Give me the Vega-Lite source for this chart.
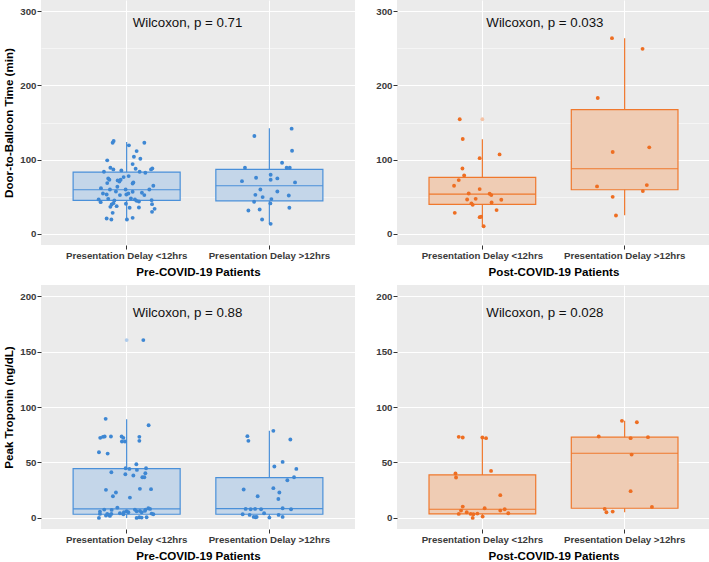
{
"$schema": "https://vega.github.io/schema/vega-lite/v6.json",
"padding": {"left": 3, "top": 0, "right": 0, "bottom": 0},
"background": "white",
"datasets": {
"boxes": [
{"p":"Pre","m":"D","g":"<12hrs","lo":18.9,"q1":45.0,"med":59.4,"q3":83.2,"hi":123.7},
{"p":"Pre","m":"D","g":">12hrs","lo":13.5,"q1":44.5,"med":64.8,"q3":86.8,"hi":142.1},
{"p":"Post","m":"D","g":"<12hrs","lo":10.3,"q1":39.6,"med":53.5,"q3":76.0,"hi":127.3},
{"p":"Post","m":"D","g":">12hrs","lo":25.2,"q1":59.4,"med":87.7,"q3":167.3,"hi":263.6},
{"p":"Pre","m":"T","g":"<12hrs","lo":0,"q1":3.3,"med":8.1,"q3":44.5,"hi":89.0},
{"p":"Pre","m":"T","g":">12hrs","lo":0,"q1":3.3,"med":8.4,"q3":36.4,"hi":78.5},
{"p":"Post","m":"T","g":"<12hrs","lo":0,"q1":3.6,"med":7.8,"q3":38.8,"hi":72.5},
{"p":"Post","m":"T","g":">12hrs","lo":5.1,"q1":8.7,"med":58.3,"q3":72.8,"hi":87.5}
],
"outl": [
{"p":"Post","m":"D","g":"<12hrs","v":154.3},
{"p":"Pre","m":"T","g":"<12hrs","v":160.3}
],
"lab": [
{"p":"Pre","m":"D","t":"Wilcoxon, p = 0.71","y":284},
{"p":"Post","m":"D","t":"Wilcoxon, p = 0.033","y":284},
{"p":"Pre","m":"T","t":"Wilcoxon, p = 0.88","y":185},
{"p":"Post","m":"T","t":"Wilcoxon, p = 0.028","y":185}
],
"pts": [
{"p":"Pre","m":"D","g":"<12hrs","v":122.8,"j":-0.098},
{"p":"Pre","m":"D","g":"<12hrs","v":125.0,"j":-0.091},
{"p":"Pre","m":"D","g":"<12hrs","v":119.2,"j":0.016},
{"p":"Pre","m":"D","g":"<12hrs","v":122.8,"j":0.124},
{"p":"Pre","m":"D","g":"<12hrs","v":111.5,"j":0.070},
{"p":"Pre","m":"D","g":"<12hrs","v":103.9,"j":0.051},
{"p":"Pre","m":"D","g":"<12hrs","v":101.2,"j":0.096},
{"p":"Pre","m":"D","g":"<12hrs","v":99.0,"j":-0.136},
{"p":"Pre","m":"D","g":"<12hrs","v":94.0,"j":0.042},
{"p":"Pre","m":"D","g":"<12hrs","v":89.1,"j":-0.114},
{"p":"Pre","m":"D","g":"<12hrs","v":86.8,"j":-0.093},
{"p":"Pre","m":"D","g":"<12hrs","v":87.7,"j":0.063},
{"p":"Pre","m":"D","g":"<12hrs","v":86.8,"j":0.171},
{"p":"Pre","m":"D","g":"<12hrs","v":88.2,"j":0.180},
{"p":"Pre","m":"D","g":"<12hrs","v":83.7,"j":-0.159},
{"p":"Pre","m":"D","g":"<12hrs","v":85.5,"j":-0.037},
{"p":"Pre","m":"D","g":"<12hrs","v":82.3,"j":0.131},
{"p":"Pre","m":"D","g":"<12hrs","v":83.7,"j":0.091},
{"p":"Pre","m":"D","g":"<12hrs","v":74.7,"j":-0.129},
{"p":"Pre","m":"D","g":"<12hrs","v":72.9,"j":-0.121},
{"p":"Pre","m":"D","g":"<12hrs","v":76.5,"j":-0.021},
{"p":"Pre","m":"D","g":"<12hrs","v":72.9,"j":-0.042},
{"p":"Pre","m":"D","g":"<12hrs","v":72.0,"j":-0.063},
{"p":"Pre","m":"D","g":"<12hrs","v":70.6,"j":-0.051},
{"p":"Pre","m":"D","g":"<12hrs","v":77.8,"j":0.014},
{"p":"Pre","m":"D","g":"<12hrs","v":67.9,"j":0.042},
{"p":"Pre","m":"D","g":"<12hrs","v":69.3,"j":0.047},
{"p":"Pre","m":"D","g":"<12hrs","v":68.4,"j":-0.136},
{"p":"Pre","m":"D","g":"<12hrs","v":63.4,"j":-0.065},
{"p":"Pre","m":"D","g":"<12hrs","v":64.8,"j":0.187},
{"p":"Pre","m":"D","g":"<12hrs","v":61.6,"j":-0.180},
{"p":"Pre","m":"D","g":"<12hrs","v":59.8,"j":-0.117},
{"p":"Pre","m":"D","g":"<12hrs","v":57.1,"j":-0.075},
{"p":"Pre","m":"D","g":"<12hrs","v":59.8,"j":-0.007},
{"p":"Pre","m":"D","g":"<12hrs","v":59.8,"j":0.159},
{"p":"Pre","m":"D","g":"<12hrs","v":54.4,"j":-0.166},
{"p":"Pre","m":"D","g":"<12hrs","v":53.1,"j":-0.140},
{"p":"Pre","m":"D","g":"<12hrs","v":53.1,"j":-0.002},
{"p":"Pre","m":"D","g":"<12hrs","v":54.4,"j":0.012},
{"p":"Pre","m":"D","g":"<12hrs","v":56.7,"j":0.042},
{"p":"Pre","m":"D","g":"<12hrs","v":55.3,"j":0.107},
{"p":"Pre","m":"D","g":"<12hrs","v":52.2,"j":0.124},
{"p":"Pre","m":"D","g":"<12hrs","v":52.2,"j":-0.047},
{"p":"Pre","m":"D","g":"<12hrs","v":46.3,"j":-0.196},
{"p":"Pre","m":"D","g":"<12hrs","v":42.7,"j":-0.182},
{"p":"Pre","m":"D","g":"<12hrs","v":47.2,"j":-0.129},
{"p":"Pre","m":"D","g":"<12hrs","v":45.0,"j":-0.086},
{"p":"Pre","m":"D","g":"<12hrs","v":47.7,"j":0.030},
{"p":"Pre","m":"D","g":"<12hrs","v":46.3,"j":0.058},
{"p":"Pre","m":"D","g":"<12hrs","v":44.5,"j":0.070},
{"p":"Pre","m":"D","g":"<12hrs","v":45.4,"j":0.175},
{"p":"Pre","m":"D","g":"<12hrs","v":39.6,"j":-0.105},
{"p":"Pre","m":"D","g":"<12hrs","v":41.4,"j":-0.093},
{"p":"Pre","m":"D","g":"<12hrs","v":40.5,"j":-0.005},
{"p":"Pre","m":"D","g":"<12hrs","v":43.6,"j":0.086},
{"p":"Pre","m":"D","g":"<12hrs","v":40.0,"j":0.178},
{"p":"Pre","m":"D","g":"<12hrs","v":36.4,"j":-0.114},
{"p":"Pre","m":"D","g":"<12hrs","v":37.3,"j":-0.070},
{"p":"Pre","m":"D","g":"<12hrs","v":35.1,"j":0.021},
{"p":"Pre","m":"D","g":"<12hrs","v":35.5,"j":0.086},
{"p":"Pre","m":"D","g":"<12hrs","v":33.7,"j":0.196},
{"p":"Pre","m":"D","g":"<12hrs","v":29.7,"j":0.178},
{"p":"Pre","m":"D","g":"<12hrs","v":28.3,"j":-0.098},
{"p":"Pre","m":"D","g":"<12hrs","v":20.7,"j":-0.140},
{"p":"Pre","m":"D","g":"<12hrs","v":19.3,"j":-0.107},
{"p":"Pre","m":"D","g":"<12hrs","v":19.3,"j":0.002},
{"p":"Pre","m":"D","g":"<12hrs","v":21.6,"j":0.042},
{"p":"Pre","m":"D","g":">12hrs","v":141.7,"j":0.156},
{"p":"Pre","m":"D","g":">12hrs","v":131.8,"j":-0.105},
{"p":"Pre","m":"D","g":">12hrs","v":112.0,"j":0.159},
{"p":"Pre","m":"D","g":">12hrs","v":95.8,"j":0.089},
{"p":"Pre","m":"D","g":">12hrs","v":89.0,"j":-0.171},
{"p":"Pre","m":"D","g":">12hrs","v":89.0,"j":0.121},
{"p":"Pre","m":"D","g":">12hrs","v":89.0,"j":0.143},
{"p":"Pre","m":"D","g":">12hrs","v":75.6,"j":-0.093},
{"p":"Pre","m":"D","g":">12hrs","v":79.6,"j":0.009},
{"p":"Pre","m":"D","g":">12hrs","v":72.9,"j":0.009},
{"p":"Pre","m":"D","g":">12hrs","v":74.7,"j":0.056},
{"p":"Pre","m":"D","g":">12hrs","v":71.0,"j":-0.192},
{"p":"Pre","m":"D","g":">12hrs","v":69.3,"j":0.180},
{"p":"Pre","m":"D","g":">12hrs","v":59.8,"j":-0.063},
{"p":"Pre","m":"D","g":">12hrs","v":57.1,"j":0.056},
{"p":"Pre","m":"D","g":">12hrs","v":52.6,"j":-0.098},
{"p":"Pre","m":"D","g":">12hrs","v":51.7,"j":0.136},
{"p":"Pre","m":"D","g":">12hrs","v":49.5,"j":-0.047},
{"p":"Pre","m":"D","g":">12hrs","v":46.8,"j":0.014},
{"p":"Pre","m":"D","g":">12hrs","v":43.2,"j":-0.107},
{"p":"Pre","m":"D","g":">12hrs","v":41.0,"j":0.007},
{"p":"Pre","m":"D","g":">12hrs","v":35.1,"j":0.140},
{"p":"Pre","m":"D","g":">12hrs","v":31.5,"j":-0.147},
{"p":"Pre","m":"D","g":">12hrs","v":32.8,"j":-0.068},
{"p":"Pre","m":"D","g":">12hrs","v":19.3,"j":-0.051},
{"p":"Pre","m":"D","g":">12hrs","v":13.5,"j":0.009},
{"p":"Post","m":"D","g":"<12hrs","v":154.3,"j":-0.159},
{"p":"Post","m":"D","g":"<12hrs","v":127.7,"j":-0.138},
{"p":"Post","m":"D","g":"<12hrs","v":102.0,"j":-0.019},
{"p":"Post","m":"D","g":"<12hrs","v":107.0,"j":0.121},
{"p":"Post","m":"D","g":"<12hrs","v":88.0,"j":-0.140},
{"p":"Post","m":"D","g":"<12hrs","v":78.7,"j":-0.128},
{"p":"Post","m":"D","g":"<12hrs","v":72.4,"j":-0.166},
{"p":"Post","m":"D","g":"<12hrs","v":64.8,"j":-0.199},
{"p":"Post","m":"D","g":"<12hrs","v":60.3,"j":-0.019},
{"p":"Post","m":"D","g":"<12hrs","v":54.4,"j":-0.096},
{"p":"Post","m":"D","g":"<12hrs","v":54.0,"j":0.051},
{"p":"Post","m":"D","g":"<12hrs","v":52.2,"j":0.063},
{"p":"Post","m":"D","g":"<12hrs","v":46.3,"j":-0.107},
{"p":"Post","m":"D","g":"<12hrs","v":47.2,"j":-0.047},
{"p":"Post","m":"D","g":"<12hrs","v":45.9,"j":0.133},
{"p":"Post","m":"D","g":"<12hrs","v":42.3,"j":0.065},
{"p":"Post","m":"D","g":"<12hrs","v":41.0,"j":-0.077},
{"p":"Post","m":"D","g":"<12hrs","v":39.1,"j":-0.068},
{"p":"Post","m":"D","g":"<12hrs","v":32.0,"j":0.100},
{"p":"Post","m":"D","g":"<12hrs","v":28.3,"j":-0.194},
{"p":"Post","m":"D","g":"<12hrs","v":22.5,"j":-0.019},
{"p":"Post","m":"D","g":"<12hrs","v":23.0,"j":-0.009},
{"p":"Post","m":"D","g":"<12hrs","v":10.3,"j":0.009},
{"p":"Post","m":"D","g":">12hrs","v":263.6,"j":-0.089},
{"p":"Post","m":"D","g":">12hrs","v":249.2,"j":0.126},
{"p":"Post","m":"D","g":">12hrs","v":183.0,"j":-0.189},
{"p":"Post","m":"D","g":">12hrs","v":110.2,"j":-0.084},
{"p":"Post","m":"D","g":">12hrs","v":116.5,"j":0.173},
{"p":"Post","m":"D","g":">12hrs","v":63.9,"j":-0.194},
{"p":"Post","m":"D","g":">12hrs","v":65.7,"j":0.156},
{"p":"Post","m":"D","g":">12hrs","v":57.6,"j":0.128},
{"p":"Post","m":"D","g":">12hrs","v":49.9,"j":-0.084},
{"p":"Post","m":"D","g":">12hrs","v":24.7,"j":-0.061},
{"p":"Pre","m":"T","g":"<12hrs","v":160.3,"j":0.117},
{"p":"Pre","m":"T","g":"<12hrs","v":89.3,"j":-0.147},
{"p":"Pre","m":"T","g":"<12hrs","v":83.6,"j":0.154},
{"p":"Pre","m":"T","g":"<12hrs","v":72.2,"j":-0.185},
{"p":"Pre","m":"T","g":"<12hrs","v":73.1,"j":-0.166},
{"p":"Pre","m":"T","g":"<12hrs","v":73.4,"j":-0.154},
{"p":"Pre","m":"T","g":"<12hrs","v":73.4,"j":-0.110},
{"p":"Pre","m":"T","g":"<12hrs","v":73.4,"j":-0.035},
{"p":"Pre","m":"T","g":"<12hrs","v":72.2,"j":-0.023},
{"p":"Pre","m":"T","g":"<12hrs","v":73.1,"j":0.089},
{"p":"Pre","m":"T","g":"<12hrs","v":68.9,"j":-0.033},
{"p":"Pre","m":"T","g":"<12hrs","v":68.9,"j":-0.012},
{"p":"Pre","m":"T","g":"<12hrs","v":69.5,"j":0.089},
{"p":"Pre","m":"T","g":"<12hrs","v":59.2,"j":-0.194},
{"p":"Pre","m":"T","g":"<12hrs","v":58.0,"j":-0.133},
{"p":"Pre","m":"T","g":"<12hrs","v":48.4,"j":0.068},
{"p":"Pre","m":"T","g":"<12hrs","v":44.8,"j":-0.007},
{"p":"Pre","m":"T","g":"<12hrs","v":44.2,"j":0.019},
{"p":"Pre","m":"T","g":"<12hrs","v":43.3,"j":0.072},
{"p":"Pre","m":"T","g":"<12hrs","v":44.8,"j":0.136},
{"p":"Pre","m":"T","g":"<12hrs","v":41.2,"j":-0.107},
{"p":"Pre","m":"T","g":"<12hrs","v":39.4,"j":-0.009},
{"p":"Pre","m":"T","g":"<12hrs","v":40.3,"j":0.131},
{"p":"Pre","m":"T","g":"<12hrs","v":38.2,"j":0.047},
{"p":"Pre","m":"T","g":"<12hrs","v":36.7,"j":0.110},
{"p":"Pre","m":"T","g":"<12hrs","v":36.7,"j":0.124},
{"p":"Pre","m":"T","g":"<12hrs","v":25.3,"j":-0.145},
{"p":"Pre","m":"T","g":"<12hrs","v":26.2,"j":0.093},
{"p":"Pre","m":"T","g":"<12hrs","v":25.9,"j":0.171},
{"p":"Pre","m":"T","g":"<12hrs","v":22.9,"j":-0.075},
{"p":"Pre","m":"T","g":"<12hrs","v":19.5,"j":-0.096},
{"p":"Pre","m":"T","g":"<12hrs","v":18.3,"j":0.023},
{"p":"Pre","m":"T","g":"<12hrs","v":9.3,"j":-0.065},
{"p":"Pre","m":"T","g":"<12hrs","v":8.7,"j":0.152},
{"p":"Pre","m":"T","g":"<12hrs","v":5.7,"j":-0.187},
{"p":"Pre","m":"T","g":"<12hrs","v":7.5,"j":-0.157},
{"p":"Pre","m":"T","g":"<12hrs","v":7.2,"j":-0.105},
{"p":"Pre","m":"T","g":"<12hrs","v":0.0,"j":-0.194},
{"p":"Pre","m":"T","g":"<12hrs","v":3.6,"j":-0.136},
{"p":"Pre","m":"T","g":"<12hrs","v":2.7,"j":-0.124},
{"p":"Pre","m":"T","g":"<12hrs","v":1.8,"j":-0.117},
{"p":"Pre","m":"T","g":"<12hrs","v":3.6,"j":-0.107},
{"p":"Pre","m":"T","g":"<12hrs","v":2.1,"j":-0.145},
{"p":"Pre","m":"T","g":"<12hrs","v":6.0,"j":0.000},
{"p":"Pre","m":"T","g":"<12hrs","v":5.1,"j":0.012},
{"p":"Pre","m":"T","g":"<12hrs","v":3.3,"j":-0.023},
{"p":"Pre","m":"T","g":"<12hrs","v":5.1,"j":-0.019},
{"p":"Pre","m":"T","g":"<12hrs","v":7.5,"j":0.058},
{"p":"Pre","m":"T","g":"<12hrs","v":6.0,"j":0.070},
{"p":"Pre","m":"T","g":"<12hrs","v":6.3,"j":0.093},
{"p":"Pre","m":"T","g":"<12hrs","v":5.1,"j":0.105},
{"p":"Pre","m":"T","g":"<12hrs","v":7.5,"j":0.133},
{"p":"Pre","m":"T","g":"<12hrs","v":6.3,"j":0.128},
{"p":"Pre","m":"T","g":"<12hrs","v":8.1,"j":0.164},
{"p":"Pre","m":"T","g":"<12hrs","v":3.9,"j":0.175},
{"p":"Pre","m":"T","g":"<12hrs","v":3.3,"j":0.187},
{"p":"Pre","m":"T","g":"<12hrs","v":0.0,"j":0.070},
{"p":"Pre","m":"T","g":"<12hrs","v":0.6,"j":0.089},
{"p":"Pre","m":"T","g":"<12hrs","v":0.3,"j":0.105},
{"p":"Pre","m":"T","g":"<12hrs","v":0.6,"j":0.140},
{"p":"Pre","m":"T","g":"<12hrs","v":4.2,"j":-0.047},
{"p":"Pre","m":"T","g":"<12hrs","v":3.6,"j":-0.187},
{"p":"Pre","m":"T","g":">12hrs","v":78.5,"j":0.028},
{"p":"Pre","m":"T","g":">12hrs","v":73.7,"j":-0.154},
{"p":"Pre","m":"T","g":">12hrs","v":69.5,"j":-0.147},
{"p":"Pre","m":"T","g":">12hrs","v":70.7,"j":0.147},
{"p":"Pre","m":"T","g":">12hrs","v":50.5,"j":0.093},
{"p":"Pre","m":"T","g":">12hrs","v":46.3,"j":0.035},
{"p":"Pre","m":"T","g":">12hrs","v":44.2,"j":0.189},
{"p":"Pre","m":"T","g":">12hrs","v":36.7,"j":0.173},
{"p":"Pre","m":"T","g":">12hrs","v":34.0,"j":0.126},
{"p":"Pre","m":"T","g":">12hrs","v":25.6,"j":-0.180},
{"p":"Pre","m":"T","g":">12hrs","v":26.8,"j":0.028},
{"p":"Pre","m":"T","g":">12hrs","v":22.9,"j":0.070},
{"p":"Pre","m":"T","g":">12hrs","v":19.5,"j":-0.082},
{"p":"Pre","m":"T","g":">12hrs","v":17.1,"j":0.063},
{"p":"Pre","m":"T","g":">12hrs","v":8.7,"j":0.093},
{"p":"Pre","m":"T","g":">12hrs","v":7.8,"j":0.152},
{"p":"Pre","m":"T","g":">12hrs","v":8.1,"j":-0.166},
{"p":"Pre","m":"T","g":">12hrs","v":7.8,"j":-0.131},
{"p":"Pre","m":"T","g":">12hrs","v":8.1,"j":-0.100},
{"p":"Pre","m":"T","g":">12hrs","v":7.8,"j":-0.058},
{"p":"Pre","m":"T","g":">12hrs","v":3.3,"j":-0.187},
{"p":"Pre","m":"T","g":">12hrs","v":2.7,"j":-0.138},
{"p":"Pre","m":"T","g":">12hrs","v":0.9,"j":-0.110},
{"p":"Pre","m":"T","g":">12hrs","v":0.6,"j":-0.096},
{"p":"Pre","m":"T","g":">12hrs","v":0.9,"j":-0.089},
{"p":"Pre","m":"T","g":">12hrs","v":4.2,"j":-0.037},
{"p":"Pre","m":"T","g":">12hrs","v":0.3,"j":0.000},
{"p":"Pre","m":"T","g":">12hrs","v":2.7,"j":0.065},
{"p":"Pre","m":"T","g":">12hrs","v":0.9,"j":0.093},
{"p":"Post","m":"T","g":"<12hrs","v":73.1,"j":-0.166},
{"p":"Post","m":"T","g":"<12hrs","v":72.5,"j":-0.138},
{"p":"Post","m":"T","g":"<12hrs","v":72.5,"j":0.000},
{"p":"Post","m":"T","g":"<12hrs","v":71.9,"j":0.026},
{"p":"Post","m":"T","g":"<12hrs","v":42.4,"j":0.061},
{"p":"Post","m":"T","g":"<12hrs","v":40.0,"j":-0.189},
{"p":"Post","m":"T","g":"<12hrs","v":36.4,"j":-0.185},
{"p":"Post","m":"T","g":"<12hrs","v":20.5,"j":0.126},
{"p":"Post","m":"T","g":"<12hrs","v":10.2,"j":-0.138},
{"p":"Post","m":"T","g":"<12hrs","v":6.6,"j":-0.150},
{"p":"Post","m":"T","g":"<12hrs","v":8.7,"j":0.016},
{"p":"Post","m":"T","g":"<12hrs","v":6.6,"j":0.126},
{"p":"Post","m":"T","g":"<12hrs","v":7.8,"j":0.157},
{"p":"Post","m":"T","g":"<12hrs","v":3.6,"j":-0.166},
{"p":"Post","m":"T","g":"<12hrs","v":5.1,"j":-0.110},
{"p":"Post","m":"T","g":"<12hrs","v":3.6,"j":-0.082},
{"p":"Post","m":"T","g":"<12hrs","v":3.3,"j":-0.063},
{"p":"Post","m":"T","g":"<12hrs","v":3.9,"j":-0.035},
{"p":"Post","m":"T","g":"<12hrs","v":4.2,"j":0.182},
{"p":"Post","m":"T","g":"<12hrs","v":0.0,"j":-0.068},
{"p":"Post","m":"T","g":"<12hrs","v":1.2,"j":0.002},
{"p":"Post","m":"T","g":">12hrs","v":87.5,"j":-0.019},
{"p":"Post","m":"T","g":">12hrs","v":86.3,"j":0.086},
{"p":"Post","m":"T","g":">12hrs","v":73.4,"j":-0.182},
{"p":"Post","m":"T","g":">12hrs","v":71.9,"j":0.042},
{"p":"Post","m":"T","g":">12hrs","v":72.8,"j":0.164},
{"p":"Post","m":"T","g":">12hrs","v":57.1,"j":0.049},
{"p":"Post","m":"T","g":">12hrs","v":24.1,"j":0.042},
{"p":"Post","m":"T","g":">12hrs","v":9.9,"j":0.192},
{"p":"Post","m":"T","g":">12hrs","v":8.1,"j":-0.140},
{"p":"Post","m":"T","g":">12hrs","v":5.1,"j":-0.128},
{"p":"Post","m":"T","g":">12hrs","v":5.7,"j":-0.084}
]
},
"vconcat": [
{"hconcat": [
{"width": 314, "height": 245,
 "resolve": {"scale": {"xOffset": "independent"}},
 "layer": [
  {"data": {"name": "boxes"}, "transform": [{"filter": "datum.p=='Pre' && datum.m=='D'"}],
   "mark": {"type": "rule", "color": "#4A90D9", "strokeWidth": 1.2},
   "encoding": {
    "x": {"field": "g", "type": "nominal", "title": "Pre-COVID-19 Patients", "scale": {"type": "band", "domain": ["<12hrs", ">12hrs"], "paddingInner": 0, "paddingOuter": 0.1}, "axis": {"labelExpr": "'Presentation Delay ' + datum.value", "bandPosition": 0.5, "labelAngle": 0}},
    "y": {"field": "lo", "type": "quantitative", "title": "Door-to-Balloon Time (min)", "scale": {"domain": [-15, 315], "nice": false, "zero": false}, "axis": {"values": [0, 50, 100, 150, 200, 250, 300], "labelExpr": "datum.value % 100 == 0 ? datum.label : ''", "tickOpacity": {"condition": {"test": "datum.value % 100 != 0", "value": 0}, "value": 1}, "gridWidth": {"condition": {"test": "datum.value % 100 != 0", "value": 0.5}, "value": 1.1}}},
    "y2": {"field": "hi"}}},
  {"data": {"name": "boxes"}, "transform": [{"filter": "datum.p=='Pre' && datum.m=='D'"}],
   "mark": {"type": "bar", "width": {"band": 0.75}, "fill": "#C4D6E9", "stroke": "#4A90D9", "strokeWidth": 1.2},
   "encoding": {"x": {"field": "g", "type": "nominal", "title": "Pre-COVID-19 Patients"}, "y": {"field": "q1", "type": "quantitative", "title": "Door-to-Balloon Time (min)"}, "y2": {"field": "q3"}}},
  {"data": {"name": "boxes"}, "transform": [{"filter": "datum.p=='Pre' && datum.m=='D'"}],
   "mark": {"type": "bar", "width": {"band": 0.75}, "fillOpacity": 0, "stroke": "#4A90D9", "strokeWidth": 1.2},
   "encoding": {"x": {"field": "g", "type": "nominal", "title": "Pre-COVID-19 Patients"}, "y": {"field": "med", "type": "quantitative", "title": "Door-to-Balloon Time (min)"}, "y2": {"field": "med"}}},
  {"data": {"name": "pts"}, "transform": [{"filter": "datum.p=='Pre' && datum.m=='D'"}],
   "mark": {"type": "circle", "size": 15, "opacity": 1, "color": "#3E87D3"},
   "encoding": {"x": {"field": "g", "type": "nominal", "title": "Pre-COVID-19 Patients"}, "xOffset": {"field": "j", "type": "quantitative", "scale": {"domain": [-0.5, 0.5]}}, "y": {"field": "v", "type": "quantitative", "title": "Door-to-Balloon Time (min)"}}},
  {"data": {"name": "lab"}, "transform": [{"filter": "datum.p=='Pre' && datum.m=='D'"}],
   "mark": {"type": "text", "align": "left", "baseline": "middle", "dx": 6, "fontSize": 13.3, "font": "Liberation Sans", "color": "#111"},
   "encoding": {"x": {"datum": "<12hrs", "type": "nominal", "title": "Pre-COVID-19 Patients"}, "y": {"field": "y", "type": "quantitative", "title": "Door-to-Balloon Time (min)"}, "text": {"field": "t"}}}
 ]},
{"width": 313, "height": 245,
 "resolve": {"scale": {"xOffset": "independent"}},
 "layer": [
  {"data": {"name": "boxes"}, "transform": [{"filter": "datum.p=='Post' && datum.m=='D'"}],
   "mark": {"type": "rule", "color": "#F0782D", "strokeWidth": 1.2},
   "encoding": {
    "x": {"field": "g", "type": "nominal", "title": "Post-COVID-19 Patients", "scale": {"type": "band", "domain": ["<12hrs", ">12hrs"], "paddingInner": 0, "paddingOuter": 0.1}, "axis": {"labelExpr": "'Presentation Delay ' + datum.value", "bandPosition": 0.5, "labelAngle": 0}},
    "y": {"field": "lo", "type": "quantitative", "title": null, "scale": {"domain": [-15, 315], "nice": false, "zero": false}, "axis": {"values": [0, 50, 100, 150, 200, 250, 300], "labelExpr": "datum.value % 100 == 0 ? datum.label : ''", "tickOpacity": {"condition": {"test": "datum.value % 100 != 0", "value": 0}, "value": 1}, "gridWidth": {"condition": {"test": "datum.value % 100 != 0", "value": 0.5}, "value": 1.1}}},
    "y2": {"field": "hi"}}},
  {"data": {"name": "boxes"}, "transform": [{"filter": "datum.p=='Post' && datum.m=='D'"}],
   "mark": {"type": "bar", "width": {"band": 0.75}, "fill": "#EFCCB4", "stroke": "#F0782D", "strokeWidth": 1.2},
   "encoding": {"x": {"field": "g", "type": "nominal", "title": "Post-COVID-19 Patients"}, "y": {"field": "q1", "type": "quantitative", "title": null}, "y2": {"field": "q3"}}},
  {"data": {"name": "boxes"}, "transform": [{"filter": "datum.p=='Post' && datum.m=='D'"}],
   "mark": {"type": "bar", "width": {"band": 0.75}, "fillOpacity": 0, "stroke": "#F0782D", "strokeWidth": 1.2},
   "encoding": {"x": {"field": "g", "type": "nominal", "title": "Post-COVID-19 Patients"}, "y": {"field": "med", "type": "quantitative", "title": null}, "y2": {"field": "med"}}},
  {"data": {"name": "outl"}, "transform": [{"filter": "datum.p=='Post' && datum.m=='D'"}],
   "mark": {"type": "circle", "size": 15, "opacity": 1, "color": "#F5C2A4"},
   "encoding": {"x": {"field": "g", "type": "nominal", "title": "Post-COVID-19 Patients"}, "y": {"field": "v", "type": "quantitative", "title": null}}},
  {"data": {"name": "pts"}, "transform": [{"filter": "datum.p=='Post' && datum.m=='D'"}],
   "mark": {"type": "circle", "size": 15, "opacity": 1, "color": "#EE6E22"},
   "encoding": {"x": {"field": "g", "type": "nominal", "title": "Post-COVID-19 Patients"}, "xOffset": {"field": "j", "type": "quantitative", "scale": {"domain": [-0.5, 0.5]}}, "y": {"field": "v", "type": "quantitative", "title": null}}},
  {"data": {"name": "lab"}, "transform": [{"filter": "datum.p=='Post' && datum.m=='D'"}],
   "mark": {"type": "text", "align": "left", "baseline": "middle", "dx": 4, "fontSize": 13.3, "font": "Liberation Sans", "color": "#111"},
   "encoding": {"x": {"datum": "<12hrs", "type": "nominal", "title": "Post-COVID-19 Patients"}, "y": {"field": "y", "type": "quantitative", "title": null}, "text": {"field": "t"}}}
 ]}
], "spacing": 20},
{"hconcat": [
{"width": 314, "height": 244,
 "resolve": {"scale": {"xOffset": "independent"}},
 "layer": [
  {"data": {"name": "boxes"}, "transform": [{"filter": "datum.p=='Pre' && datum.m=='T'"}],
   "mark": {"type": "rule", "color": "#4A90D9", "strokeWidth": 1.2},
   "encoding": {
    "x": {"field": "g", "type": "nominal", "title": "Pre-COVID-19 Patients", "scale": {"type": "band", "domain": ["<12hrs", ">12hrs"], "paddingInner": 0, "paddingOuter": 0.1}, "axis": {"labelExpr": "'Presentation Delay ' + datum.value", "bandPosition": 0.5, "labelAngle": 0}},
    "y": {"field": "lo", "type": "quantitative", "title": "Peak Troponin (ng/dL)", "scale": {"domain": [-10, 210], "nice": false, "zero": false}, "axis": {"values": [0, 25, 50, 75, 100, 125, 150, 175, 200], "labelExpr": "datum.value % 50 == 0 ? datum.label : ''", "tickOpacity": {"condition": {"test": "datum.value % 50 != 0", "value": 0}, "value": 1}, "gridWidth": {"condition": {"test": "datum.value % 50 != 0", "value": 0.5}, "value": 1.1}}},
    "y2": {"field": "hi"}}},
  {"data": {"name": "boxes"}, "transform": [{"filter": "datum.p=='Pre' && datum.m=='T'"}],
   "mark": {"type": "bar", "width": {"band": 0.75}, "fill": "#C4D6E9", "stroke": "#4A90D9", "strokeWidth": 1.2},
   "encoding": {"x": {"field": "g", "type": "nominal", "title": "Pre-COVID-19 Patients"}, "y": {"field": "q1", "type": "quantitative", "title": "Peak Troponin (ng/dL)"}, "y2": {"field": "q3"}}},
  {"data": {"name": "boxes"}, "transform": [{"filter": "datum.p=='Pre' && datum.m=='T'"}],
   "mark": {"type": "bar", "width": {"band": 0.75}, "fillOpacity": 0, "stroke": "#4A90D9", "strokeWidth": 1.2},
   "encoding": {"x": {"field": "g", "type": "nominal", "title": "Pre-COVID-19 Patients"}, "y": {"field": "med", "type": "quantitative", "title": "Peak Troponin (ng/dL)"}, "y2": {"field": "med"}}},
  {"data": {"name": "outl"}, "transform": [{"filter": "datum.p=='Pre' && datum.m=='T'"}],
   "mark": {"type": "circle", "size": 15, "opacity": 1, "color": "#B0CCEB"},
   "encoding": {"x": {"field": "g", "type": "nominal", "title": "Pre-COVID-19 Patients"}, "y": {"field": "v", "type": "quantitative", "title": "Peak Troponin (ng/dL)"}}},
  {"data": {"name": "pts"}, "transform": [{"filter": "datum.p=='Pre' && datum.m=='T'"}],
   "mark": {"type": "circle", "size": 15, "opacity": 1, "color": "#3E87D3"},
   "encoding": {"x": {"field": "g", "type": "nominal", "title": "Pre-COVID-19 Patients"}, "xOffset": {"field": "j", "type": "quantitative", "scale": {"domain": [-0.5, 0.5]}}, "y": {"field": "v", "type": "quantitative", "title": "Peak Troponin (ng/dL)"}}},
  {"data": {"name": "lab"}, "transform": [{"filter": "datum.p=='Pre' && datum.m=='T'"}],
   "mark": {"type": "text", "align": "left", "baseline": "middle", "dx": 6, "fontSize": 13.3, "font": "Liberation Sans", "color": "#111"},
   "encoding": {"x": {"datum": "<12hrs", "type": "nominal", "title": "Pre-COVID-19 Patients"}, "y": {"field": "y", "type": "quantitative", "title": "Peak Troponin (ng/dL)"}, "text": {"field": "t"}}}
 ]},
{"width": 313, "height": 244,
 "resolve": {"scale": {"xOffset": "independent"}},
 "layer": [
  {"data": {"name": "boxes"}, "transform": [{"filter": "datum.p=='Post' && datum.m=='T'"}],
   "mark": {"type": "rule", "color": "#F0782D", "strokeWidth": 1.2},
   "encoding": {
    "x": {"field": "g", "type": "nominal", "title": "Post-COVID-19 Patients", "scale": {"type": "band", "domain": ["<12hrs", ">12hrs"], "paddingInner": 0, "paddingOuter": 0.1}, "axis": {"labelExpr": "'Presentation Delay ' + datum.value", "bandPosition": 0.5, "labelAngle": 0}},
    "y": {"field": "lo", "type": "quantitative", "title": null, "scale": {"domain": [-10, 210], "nice": false, "zero": false}, "axis": {"values": [0, 25, 50, 75, 100, 125, 150, 175, 200], "labelExpr": "datum.value % 50 == 0 ? datum.label : ''", "tickOpacity": {"condition": {"test": "datum.value % 50 != 0", "value": 0}, "value": 1}, "gridWidth": {"condition": {"test": "datum.value % 50 != 0", "value": 0.5}, "value": 1.1}}},
    "y2": {"field": "hi"}}},
  {"data": {"name": "boxes"}, "transform": [{"filter": "datum.p=='Post' && datum.m=='T'"}],
   "mark": {"type": "bar", "width": {"band": 0.75}, "fill": "#EFCCB4", "stroke": "#F0782D", "strokeWidth": 1.2},
   "encoding": {"x": {"field": "g", "type": "nominal", "title": "Post-COVID-19 Patients"}, "y": {"field": "q1", "type": "quantitative", "title": null}, "y2": {"field": "q3"}}},
  {"data": {"name": "boxes"}, "transform": [{"filter": "datum.p=='Post' && datum.m=='T'"}],
   "mark": {"type": "bar", "width": {"band": 0.75}, "fillOpacity": 0, "stroke": "#F0782D", "strokeWidth": 1.2},
   "encoding": {"x": {"field": "g", "type": "nominal", "title": "Post-COVID-19 Patients"}, "y": {"field": "med", "type": "quantitative", "title": null}, "y2": {"field": "med"}}},
  {"data": {"name": "pts"}, "transform": [{"filter": "datum.p=='Post' && datum.m=='T'"}],
   "mark": {"type": "circle", "size": 15, "opacity": 1, "color": "#EE6E22"},
   "encoding": {"x": {"field": "g", "type": "nominal", "title": "Post-COVID-19 Patients"}, "xOffset": {"field": "j", "type": "quantitative", "scale": {"domain": [-0.5, 0.5]}}, "y": {"field": "v", "type": "quantitative", "title": null}}},
  {"data": {"name": "lab"}, "transform": [{"filter": "datum.p=='Post' && datum.m=='T'"}],
   "mark": {"type": "text", "align": "left", "baseline": "middle", "dx": 4, "fontSize": 13.3, "font": "Liberation Sans", "color": "#111"},
   "encoding": {"x": {"datum": "<12hrs", "type": "nominal", "title": "Post-COVID-19 Patients"}, "y": {"field": "y", "type": "quantitative", "title": null}, "text": {"field": "t"}}}
 ]}
], "spacing": 20}
],
"spacing": 6,
"config": {
 "view": {"fill": "#EBEBEB", "stroke": null},
 "axis": {"domain": false, "grid": true, "gridColor": "#FFFFFF", "tickColor": "#333333", "tickSize": 4, "tickWidth": 1,
  "labelFont": "Liberation Sans", "labelFontWeight": "bold", "labelFontSize": 9.7, "labelColor": "#3A3A3A",
  "titleFont": "Liberation Sans", "titleFontWeight": "bold", "titleFontSize": 11.6, "titleColor": "#000000"},
 "axisX": {"labelPadding": 1, "titlePadding": 7, "gridWidth": 1.1},
 "axisY": {"labelPadding": 1, "titlePadding": 5}
}
}
